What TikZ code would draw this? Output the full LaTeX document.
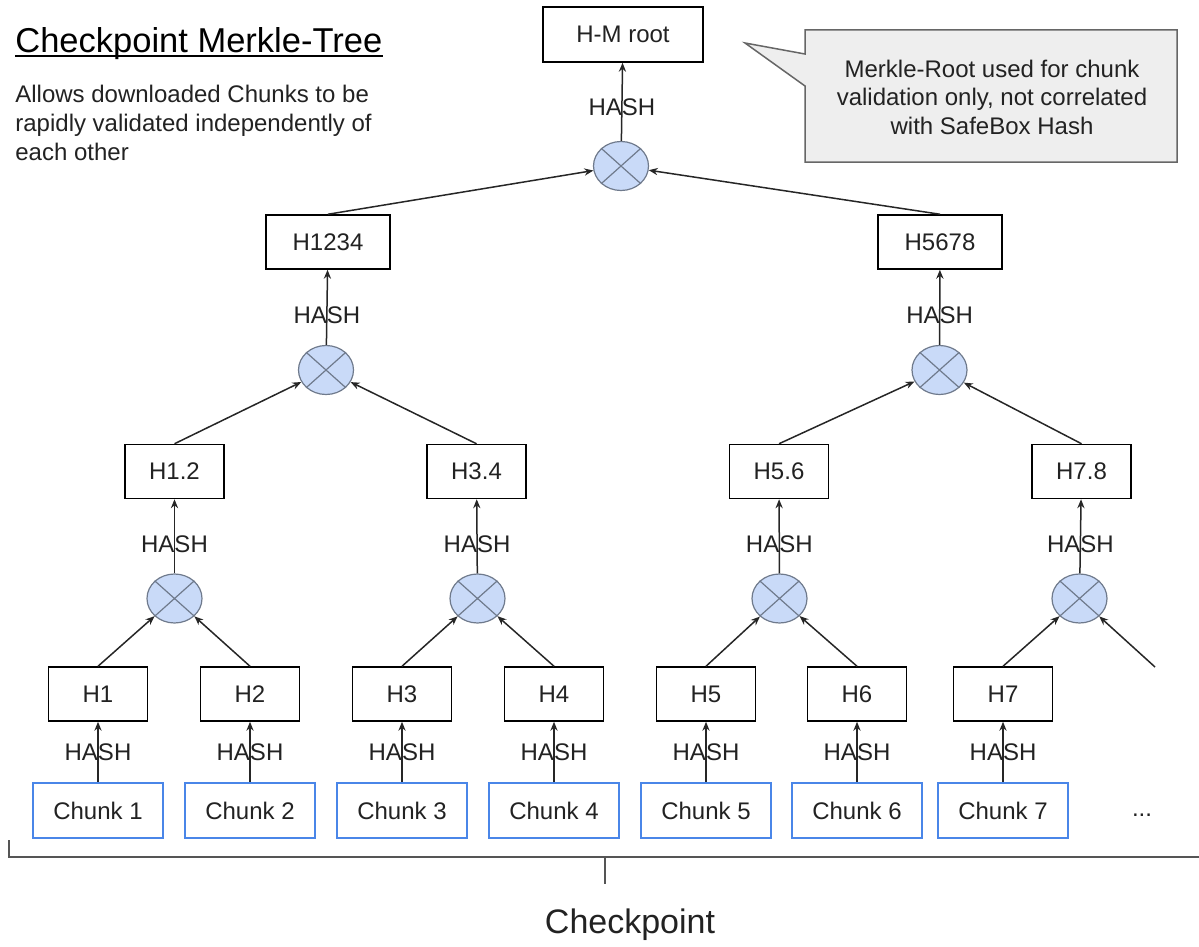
\documentclass[tikz,border=0pt]{standalone}
\usepackage{fontspec}
\setmainfont{Liberation Sans}
\usetikzlibrary{shapes.geometric,arrows.meta,calc}
\definecolor{txt}{HTML}{222222}
\definecolor{chunkblue}{HTML}{4A86E8}
\definecolor{opfill}{HTML}{C9DAF8}
\definecolor{opline}{HTML}{6F7A8C}
\definecolor{callfill}{HTML}{EEEEEE}
\definecolor{callline}{HTML}{666666}
\definecolor{brk}{HTML}{555555}
\begin{document}
\begin{tikzpicture}[x=0.5pt,y=-0.5pt,
  font=\fontsize{12}{14.5}\selectfont, text=txt,
  hbox/.style={draw=black, line width=0.75pt, minimum width=49.5pt, minimum height=27pt, inner sep=0pt},
  widebox/.style={hbox, minimum width=62pt},
  rootbox/.style={hbox, minimum width=80pt, minimum height=27.5pt},
  chunkbox/.style={draw=chunkblue, line width=1.25pt, minimum width=65pt, minimum height=27.5pt, inner sep=0pt},
  op/.style={ellipse, draw=opline, fill=opfill, line width=0.6pt, minimum width=27.5pt, minimum height=24.5pt, inner sep=0pt},
  arr/.style={draw=black!85, line width=0.75pt, -{Stealth[length=4.5pt,width=3.6pt]}},
  hashlbl/.style={inner sep=0pt, text=txt},
]
\useasboundingbox (0,0) rectangle (1199,947);

% title and description
\node[anchor=base west, inner sep=0pt, font=\fontsize{17.25}{20}\selectfont, text=black] (title) at (15,53) {Checkpoint Merkle-Tree};
\draw[line width=1pt] ($(title.base west)+(0,3.5)$) -- ($(title.base east)+(0,3.5)$);
\node[anchor=north west, inner sep=0pt, align=left] (desc) at (15,84.5) {Allows downloaded Chunks to be\\rapidly validated independently of\\each other};

% callout
\draw[callline, fill=callfill, line width=0.75pt] (805,30) -- (1177,30) -- (1177,162) -- (805,162) -- (805,86) -- (745,43) -- (805,54) -- cycle;
\node[align=center, inner sep=0pt, font=\fontsize{12}{14.25}\selectfont] (note) at (992,97) {Merkle-Root used for chunk\\validation only, not correlated\\with SafeBox Hash};

% chunks
\foreach \i/\x in {1/98,2/250,3/402,4/554,5/706,6/857,7/1003}{
  \node[chunkbox] (ch\i) at (\x,810.5) {Chunk \i};
  \node[hbox] (h\i) at (\x,694) {H\i};
}
\node[inner sep=0pt] (more) at (1142,815) {...};
\coordinate (h8) at (1155,667);

% level 1 operators
\node[op] (ca) at (174.5,598.5) {};
\node[op] (cb) at (477.5,598.5) {};
\node[op] (cc) at (779.5,598.5) {};
\node[op] (cd) at (1079.5,598.5) {};

\node[hbox] (h12) at (174.5,471.5) {H1.2};
\node[hbox] (h34) at (476.5,471.5) {H3.4};
\node[hbox] (h56) at (779,471.5) {H5.6};
\node[hbox] (h78) at (1081.5,471.5) {H7.8};

% level 2 operators
\node[op] (cl) at (326,370) {};
\node[op] (cr) at (939.5,370) {};
\node[widebox] (h1234) at (328,242) {H1234};
\node[widebox] (h5678) at (940,242) {H5678};

% root
\node[op] (cm) at (621,166) {};
\node[rootbox] (root) at (623,34.5) {H-M root};

% X marks in operators
\foreach \c in {ca,cb,cc,cd,cl,cr,cm}{
  \draw[opline, line width=0.6pt] (\c.north west) -- (\c.south east) (\c.north east) -- (\c.south west);
}

% connectors chunk -> H
\foreach \i in {1,...,7}{
  \draw[arr] (ch\i) -- node[hashlbl, pos=0.5] {HASH} (h\i);
}
% H -> operators
\draw[arr] (h1.north) -- (ca);
\draw[arr] (h2.north) -- (ca);
\draw[arr] (h3.north) -- (cb);
\draw[arr] (h4.north) -- (cb);
\draw[arr] (h5.north) -- (cc);
\draw[arr] (h6.north) -- (cc);
\draw[arr] (h7.north) -- (cd);
\draw[arr] (h8) -- (cd);
% operators -> level 2 boxes
\draw[arr] (ca) -- node[hashlbl, pos=0.4] {HASH} (h12);
\draw[arr] (cb) -- node[hashlbl, pos=0.4] {HASH} (h34);
\draw[arr] (cc) -- node[hashlbl, pos=0.4] {HASH} (h56);
\draw[arr] (cd) -- node[hashlbl, pos=0.4] {HASH} (h78);
\draw[arr] (h12.north) -- (cl);
\draw[arr] (h34.north) -- (cl);
\draw[arr] (h56.north) -- (cr);
\draw[arr] (h78.north) -- (cr);
\draw[arr] (cl) -- node[hashlbl, pos=0.39] {HASH} (h1234);
\draw[arr] (cr) -- node[hashlbl, pos=0.39] {HASH} (h5678);
\draw[arr] (h1234.north) -- (cm);
\draw[arr] (h5678.north) -- (cm);
\draw[arr] (cm) -- node[hashlbl, pos=0.43] {HASH} (root);

% checkpoint bracket
\coordinate (bl) at (9,840);
\coordinate (bc) at (605,857);
\coordinate (br) at (1199,857);
\draw[brk, line width=0.75pt] (bl) -- (9,857) -- (br);
\draw[brk, line width=0.75pt] (bc) -- (605,884);
\node[font=\fontsize{17}{20}\selectfont, inner sep=0pt] (cp) at (630,925) {Checkpoint};
\end{tikzpicture}
\end{document}
